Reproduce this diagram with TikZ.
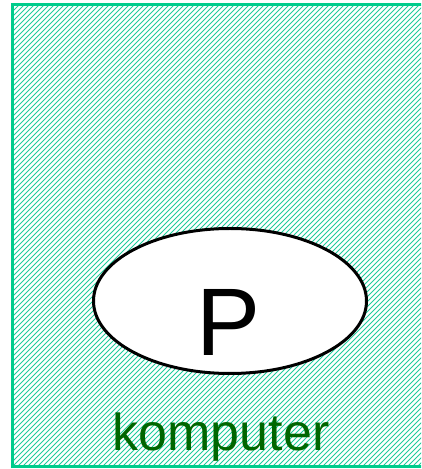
\documentclass[tikz,border=0pt]{standalone}
\usepackage{fontspec}
\setmainfont{Liberation Sans}
\definecolor{hatch}{RGB}{30,205,155}
\definecolor{frame}{RGB}{0,204,140}
\definecolor{label}{RGB}{0,102,0}
\tikzset{
  hatchline/.style={draw=hatch,line width=1.05pt},
  box/.style={draw=frame,line width=3.2pt},
  proc/.style={draw=black,line width=3pt,fill=white},
}
\begin{document}
\begin{tikzpicture}[x=1pt,y=1pt]
\useasboundingbox (0,0) rectangle (421,469);
\begin{scope}
\clip (12.5,2.5) rectangle (421,464.5);
\foreach \c in {-470,-465,...,425} \draw[hatchline] (\c,0) -- ++(470,470);
\end{scope}
\begin{scope}
\clip (0,0) rectangle (421,469);
\path[box] (12.5,2.5) rectangle (426,464.5);
\end{scope}
\coordinate (pc) at (230,168);
\draw[proc] (pc) ellipse [x radius=136.5,y radius=72.5];
\node[anchor=base,inner sep=0pt,font=\fontsize{96}{96}\selectfont] (p) at (229,113) {P};
\node[anchor=base,inner sep=0pt,text=label,font=\fontsize{52}{52}\selectfont] (k) at (221,19) {komputer};
\end{tikzpicture}
\end{document}
